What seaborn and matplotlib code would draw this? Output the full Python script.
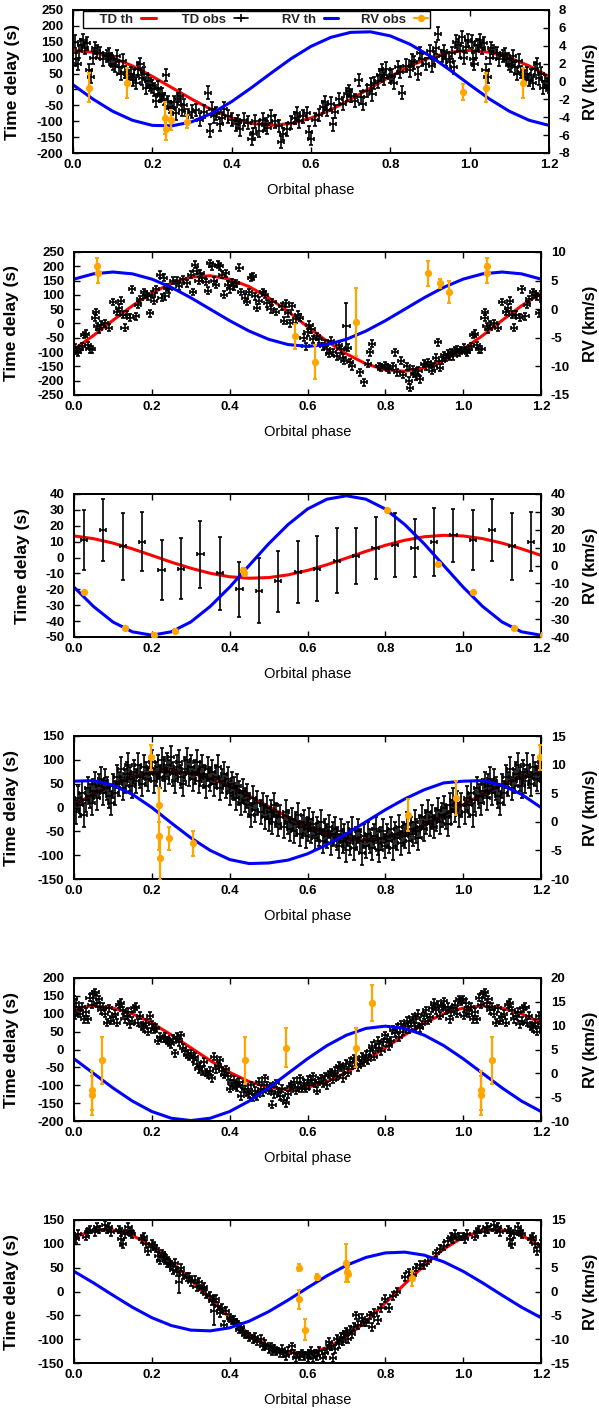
import numpy as np
import pandas as pd
import matplotlib
matplotlib.use("Agg")
import matplotlib.pyplot as plt
from matplotlib.lines import Line2D
import seaborn as sns

sns.set_theme(style="ticks")
plt.rcParams['font.family'] = ['Liberation Sans', 'DejaVu Sans']

# ---------------- data ----------------
# phase grid of the model curves (one orbit, repeated to 1.2)
GRID = [0.0, 0.05, 0.10, 0.15, 0.20, 0.25, 0.30, 0.35, 0.40, 0.45,
        0.50, 0.55, 0.60, 0.65, 0.70, 0.75, 0.80, 0.85, 0.90, 0.95]

# ---- panel 1 ----
p1_td_th = [123, 117, 100, 74, 41, 5, -31, -64, -90, -107,
            -113, -107, -90, -64, -31, 5, 41, 74, 100, 117]
p1_rv_th = [-0.36, -1.96, -3.33, -4.34, -4.91, -4.96, -4.50, -3.56, -2.25, -0.69,
            0.96, 2.56, 3.93, 4.94, 5.50, 5.56, 5.10, 4.16, 2.85, 1.29]
p1_td_obs = [(0.005,150),(0.008,95),(0.012,80),(0.015,120),(0.02,140),(0.025,155),(0.03,130),
             (0.035,145),(0.04,60),(0.045,40),(0.05,100),(0.055,130),(0.06,120),(0.068,115),
             (0.075,95),(0.085,105),(0.09,110),(0.095,95),(0.1,80),(0.105,75),(0.11,105),
             (0.115,70),(0.12,50),(0.125,90),(0.13,55),(0.14,40),(0.145,50),(0.15,30),(0.155,45),
             (0.16,20),(0.165,65),(0.17,80),(0.175,35),(0.18,50),(0.185,5),(0.19,25),(0.195,15),
             (0.2,10),(0.205,0),(0.21,-35),(0.215,5),(0.22,-20),(0.225,-15),(0.23,-30),(0.235,45),
             (0.24,-40),(0.245,-55),(0.25,-60),(0.255,-40),(0.26,-75),(0.265,-30),(0.27,-20),
             (0.275,-65),(0.28,-50),(0.29,-80),(0.3,-70),(0.31,-65),(0.32,-95),(0.33,-70),
             (0.34,-10),(0.345,-130),(0.35,-60),(0.355,-85),(0.36,-75),(0.37,-110),(0.375,-90),
             (0.38,-60),(0.39,-85),(0.4,-95),(0.41,-110),(0.415,-100),(0.42,-125),(0.43,-95),
             (0.44,-105),(0.45,-155),(0.455,-140),(0.46,-100),(0.47,-130),(0.48,-95),(0.485,-110),
             (0.49,-120),(0.5,-85),(0.51,-100),(0.52,-115),(0.525,-165),(0.53,-140),(0.54,-125),
             (0.55,-105),(0.56,-90),(0.565,-75),(0.57,-100),(0.58,-85),(0.59,-75),(0.595,-135),
             (0.6,-155),(0.61,-95),(0.62,-80),(0.63,-55),(0.635,-40),(0.64,-65),(0.65,-45),
             (0.655,-110),(0.66,-70),(0.67,-30),(0.68,-45),(0.69,-15),(0.695,-5),(0.7,-20),
             (0.71,-35),(0.72,30),(0.725,-25),(0.73,-45),(0.74,-5),(0.75,15),(0.755,-15),(0.76,20),
             (0.77,25),(0.775,45),(0.78,60),(0.785,35),(0.79,65),(0.8,40),(0.805,45),(0.81,20),
             (0.82,70),(0.825,55),(0.83,-10),(0.84,75),(0.85,60),(0.855,90),(0.86,85),(0.87,50),
             (0.875,115),(0.88,95),(0.89,80),(0.9,120),(0.905,75),(0.91,100),(0.915,130),
             (0.92,175),(0.93,105),(0.935,120),(0.94,95),(0.95,85),(0.955,115),(0.96,70),
             (0.965,150),(0.97,140),(0.975,120),(0.98,165),(0.985,100),(0.99,135),(0.995,155)]
p1_td_err = 20
p1_rv_obs = [(0.04,-0.7,1.6),(0.135,-0.2,1.7),(0.232,-4.1,1.8),(0.234,-5.3,1.2),
             (0.248,-4.3,1.1),(0.287,-4.5,0.7),(0.983,-1.2,0.9)]

# ---- panel 2 ----
p2_td_th = [-90, -42, 11, 62, 106, 141, 162, 167, 155, 129,
            90, 42, -11, -62, -106, -141, -162, -167, -155, -129]
p2_rv_th = [5.26, 6.18, 6.5, 6.18, 5.26, 3.82, 2.01, 0.0, -2.01, -3.82,
            -5.26, -6.18, -6.5, -6.18, -5.26, -3.82, -2.01, 0.0, 2.01, 3.82]
p2_td_obs = [(0.003,-85),(0.007,-95),(0.01,-100),(0.015,-90),(0.02,-80),(0.025,-40),(0.03,-35),
             (0.035,-75),(0.04,-90),(0.047,-90),(0.055,20),(0.057,40),(0.06,-10),(0.065,-20),
             (0.07,-5),(0.08,0),(0.09,-15),(0.1,75),(0.11,40),(0.115,55),(0.12,80),(0.125,30),
             (0.13,-15),(0.135,30),(0.145,20),(0.15,120),(0.16,25),(0.165,65),(0.17,85),(0.18,110),
             (0.185,100),(0.19,95),(0.195,35),(0.2,100),(0.205,80),(0.21,120),(0.22,170),(0.225,90),
             (0.23,160),(0.235,95),(0.24,125),(0.245,120),(0.255,150),(0.265,150),(0.27,130),
             (0.28,155),(0.29,140),(0.3,170),(0.305,110),(0.31,205),(0.315,185),(0.32,150),
             (0.325,175),(0.33,160),(0.34,145),(0.345,115),(0.35,210),(0.355,200),(0.36,150),
             (0.365,135),(0.37,205),(0.375,200),(0.38,170),(0.385,100),(0.39,175),(0.395,135),
             (0.4,120),(0.405,145),(0.41,130),(0.415,140),(0.425,195),(0.43,110),(0.44,90),
             (0.445,75),(0.45,110),(0.455,160),(0.46,165),(0.465,95),(0.47,55),(0.475,80),
             (0.485,110),(0.49,100),(0.495,70),(0.505,50),(0.51,75),(0.52,40),(0.535,60),(0.54,10),
             (0.545,70),(0.55,35),(0.555,0),(0.56,60),(0.57,15),(0.575,30),(0.58,20),(0.59,-50),
             (0.595,-80),(0.6,-30),(0.605,-5),(0.61,-20),(0.615,-55),(0.625,-45),(0.63,-55),
             (0.64,-80),(0.645,-70),(0.65,-90),(0.655,-105),(0.66,-60),(0.665,-100),(0.675,-115),
             (0.68,-75),(0.685,-90),(0.69,-120),(0.695,-130),(0.705,-85),(0.71,-135),(0.715,-150),
             (0.735,-170),(0.745,-205),(0.755,-140),(0.76,-100),(0.765,-70),(0.785,-150),
             (0.79,-155),(0.8,-145),(0.805,-155),(0.81,-160),(0.82,-150),(0.825,-100),(0.83,-170),
             (0.84,-130),(0.845,-180),(0.855,-150),(0.86,-200),(0.863,-225),(0.87,-160),
             (0.875,-175),(0.88,-185),(0.885,-165),(0.89,-195),(0.9,-140),(0.905,-150),(0.91,-135),
             (0.915,-145),(0.92,-165),(0.925,-150),(0.93,-120),(0.935,-65),(0.94,-155),(0.945,-130),
             (0.95,-110),(0.955,-120),(0.96,-105),(0.965,-115),(0.97,-100),(0.975,-115),(0.98,-95),
             (0.985,-90),(0.99,-100),(0.995,-95)]
p2_td_err = 12
p2_td_big = [(0.70,-10,82)]
p2_rv_obs = [(0.06,7.5,1.5),(0.061,6.25,1.6),(0.568,-4.75,2.2),(0.62,-9.25,3.0),
             (0.725,-2.25,6.0),(0.91,6.25,2.2),(0.94,4.5,0.8),(0.963,3.0,2.0)]

# ---- panel 3 ----
p3_td_th = [13.6, 11.9, 9.1, 5.5, 1.35, -2.9, -6.7, -9.9, -12.1, -13.0,
            -12.6, -10.9, -8.1, -4.5, -0.35, 3.9, 7.7, 10.9, 13.1, 14.0]
p3_rv_th = [-12.1, -22.9, -31.6, -37.1, -39.0, -37.1, -31.6, -22.9, -12.1, 0.0,
            12.1, 22.9, 31.6, 37.1, 39.0, 37.1, 31.6, 22.9, 12.1, 0.0]
p3_td_obs = [(0.025,11,19),(0.075,17.5,19.5),(0.125,7,21),(0.175,10,18.5),(0.225,-8,19),
             (0.275,-7,19),(0.325,2,21),(0.375,-10,23),(0.425,-20,17.5),(0.475,-21,20.5),
             (0.525,-15,19),(0.575,-9,19.5),(0.625,-7,20.5),(0.675,-2,20.5),(0.725,1,17.5),
             (0.775,6,19.5),(0.825,8,20),(0.875,6,18.5),(0.925,10,21.5),(0.975,14,16.5)]
p3_rv_obs = [(0.025,-15.1,0.8),(0.13,-34.7,0.8),(0.205,-38.8,0.8),(0.26,-36.4,0.8),
             (0.435,-2.7,1.2),(0.436,-4.4,1.0),(0.805,31.1,0.8),(0.935,0.9,0.8)]

# ---- panel 4 ----
p4_td_th = [6, 28, 48, 64, 73, 76, 72, 61, 45, 24,
            2, -20, -40, -56, -65, -68, -64, -53, -37, -16]
p4_rv_th = [7.1, 7.2, 6.4, 4.8, 2.5, -0.2, -2.8, -5.0, -6.6, -7.3,
            -7.2, -6.7, -5.6, -4.0, -2.1, 0.0, 2.1, 4.0, 5.6, 6.8]
p4_td_obs = [(0.005,-10),(0.01,20),(0.015,5),(0.02,30),(0.025,-15),(0.03,15),(0.035,40),(0.04,25),
             (0.045,10),(0.05,35),(0.055,50),(0.06,20),(0.065,45),(0.07,60),(0.075,30),(0.08,55),
             (0.085,40),(0.09,25),(0.095,10),(0.1,45),(0.105,30),(0.11,65),(0.115,50),(0.12,80),
             (0.125,40),(0.13,55),(0.135,70),(0.14,90),(0.145,60),(0.15,45),(0.155,75),(0.16,55),
             (0.165,90),(0.17,65),(0.175,50),(0.18,85),(0.185,70),(0.19,60),(0.195,80),(0.2,95),
             (0.205,55),(0.21,70),(0.215,85),(0.22,65),(0.225,100),(0.23,80),(0.235,60),(0.24,90),
             (0.245,75),(0.25,105),(0.255,70),(0.26,55),(0.265,85),(0.27,95),(0.275,65),(0.28,50),
             (0.285,80),(0.29,100),(0.295,70),(0.3,85),(0.305,60),(0.31,75),(0.315,95),(0.32,55),
             (0.325,70),(0.33,85),(0.335,65),(0.34,45),(0.345,80),(0.35,60),(0.355,75),(0.36,50),
             (0.365,65),(0.37,85),(0.375,40),(0.38,55),(0.385,70),(0.39,45),(0.395,60),(0.4,30),
             (0.405,50),(0.41,40),(0.415,20),(0.42,45),(0.425,30),(0.43,10),(0.435,35),(0.44,15),
             (0.445,25),(0.45,5),(0.455,-15),(0.46,20),(0.465,-5),(0.47,10),(0.48,-10),(0.485,5),
             (0.49,-20),(0.495,0),(0.5,-25),(0.505,-10),(0.51,-30),(0.515,5),(0.52,-15),(0.525,-35),
             (0.53,-20),(0.54,-40),(0.545,-10),(0.55,-30),(0.555,-45),(0.56,-25),(0.565,-50),
             (0.57,-35),(0.575,-15),(0.58,-55),(0.585,-40),(0.59,-30),(0.595,-60),(0.6,-45),
             (0.605,-25),(0.61,-50),(0.615,-35),(0.62,-65),(0.625,-45),(0.63,-55),(0.635,-30),
             (0.64,-70),(0.645,-50),(0.65,-60),(0.655,-40),(0.66,-75),(0.665,-55),(0.67,-45),
             (0.675,-65),(0.68,-80),(0.685,-50),(0.69,-70),(0.695,-60),(0.7,-90),(0.705,-55),
             (0.71,-75),(0.715,-45),(0.72,-85),(0.725,-65),(0.73,-50),(0.735,-70),(0.74,-95),
             (0.745,-60),(0.75,-80),(0.755,-55),(0.76,-70),(0.765,-85),(0.77,-60),(0.775,-45),
             (0.78,-75),(0.785,-90),(0.79,-65),(0.795,-50),(0.8,-80),(0.805,-60),(0.81,-70),
             (0.815,-45),(0.82,-85),(0.825,-55),(0.83,-65),(0.835,-40),(0.84,-75),(0.845,-55),
             (0.85,-60),(0.855,-35),(0.86,-70),(0.865,-45),(0.87,-55),(0.875,-30),(0.88,-50),
             (0.885,-65),(0.89,-40),(0.895,-20),(0.9,-45),(0.905,-30),(0.91,-10),(0.915,-35),
             (0.92,-20),(0.925,-40),(0.93,-25),(0.935,-5),(0.94,-30),(0.945,-15),(0.95,0),
             (0.955,-20),(0.96,-35),(0.965,5),(0.97,-10),(0.975,15),(0.98,-5),(0.985,10),
             (0.99,-15),(0.995,5)]
p4_td_err = 25
p4_rv_obs = [(0.198,11.25,2.2),(0.218,2.9,3.0),(0.219,-2.5,2.5),(0.22,-6.25,4.0),
             (0.245,-2.9,2.0),(0.305,-3.75,2.2),(0.858,1.25,2.8),(0.982,4.2,3.0)]

# ---- panel 5 ----
p5_td_th = [116, 122, 116, 100, 74, 41, 5, -31, -64, -90,
            -106, -112, -106, -90, -64, -31, 5, 41, 74, 100]
p5_rv_th = [3.06, 0.0, -3.06, -5.82, -8.01, -9.42, -9.9, -9.42, -8.01, -5.82,
            -3.06, 0.0, 3.06, 5.82, 8.01, 9.42, 9.9, 9.42, 8.01, 5.82]
p5_td_obs = [(0.0,140),(0.003,95),(0.006,130),(0.01,110),(0.015,100),(0.02,120),(0.025,85),
             (0.03,105),(0.035,85),(0.04,145),(0.045,125),(0.05,155),(0.055,160),(0.06,130),
             (0.065,140),(0.07,110),(0.075,120),(0.08,100),(0.085,75),(0.09,115),(0.095,80),
             (0.1,90),(0.105,100),(0.11,75),(0.115,125),(0.12,130),(0.125,110),(0.13,85),
             (0.135,95),(0.14,105),(0.145,70),(0.15,80),(0.155,115),(0.16,120),(0.165,75),
             (0.17,95),(0.175,65),(0.18,60),(0.185,75),(0.19,50),(0.195,95),(0.2,70),(0.205,55),
             (0.21,60),(0.215,25),(0.22,35),(0.23,30),(0.235,35),(0.24,25),(0.245,20),(0.25,15),
             (0.255,30),(0.26,-10),(0.265,35),(0.27,20),(0.275,40),(0.28,5),(0.285,-5),(0.29,-15),
             (0.295,-20),(0.3,-10),(0.305,-25),(0.31,-20),(0.315,-40),(0.32,-55),(0.325,-45),
             (0.33,-60),(0.335,-35),(0.34,-65),(0.345,-70),(0.35,-60),(0.355,-80),(0.36,-20),
             (0.365,-55),(0.37,-45),(0.375,-30),(0.38,-60),(0.385,-70),(0.39,-55),(0.395,-75),
             (0.4,-110),(0.405,-95),(0.41,-85),(0.415,-100),(0.42,-105),(0.425,-90),(0.43,-130),
             (0.435,-100),(0.44,-110),(0.445,-120),(0.45,-125),(0.455,-100),(0.46,-135),
             (0.465,-115),(0.47,-130),(0.475,-90),(0.48,-110),(0.485,-120),(0.49,-80),(0.495,-100),
             (0.5,-115),(0.505,-105),(0.51,-155),(0.515,-125),(0.52,-95),(0.525,-120),(0.53,-130),
             (0.535,-110),(0.54,-140),(0.545,-150),(0.55,-125),(0.555,-105),(0.56,-100),
             (0.565,-90),(0.57,-115),(0.575,-105),(0.58,-80),(0.585,-110),(0.59,-95),(0.595,-110),
             (0.6,-85),(0.605,-100),(0.61,-85),(0.615,-75),(0.62,-95),(0.625,-115),(0.63,-90),
             (0.635,-80),(0.64,-95),(0.645,-75),(0.65,-100),(0.655,-70),(0.66,-65),(0.665,-85),
             (0.67,-60),(0.675,-75),(0.68,-45),(0.685,-50),(0.69,-80),(0.695,-55),(0.7,-40),
             (0.705,-65),(0.71,-35),(0.715,-45),(0.72,-25),(0.725,-30),(0.73,-50),(0.735,-40),
             (0.74,-20),(0.745,-35),(0.75,-15),(0.755,-30),(0.76,-5),(0.765,10),(0.77,-20),
             (0.775,5),(0.78,25),(0.785,15),(0.79,-5),(0.795,20),(0.8,40),(0.805,30),(0.81,10),
             (0.815,25),(0.82,55),(0.825,45),(0.83,60),(0.835,35),(0.84,70),(0.845,50),(0.85,65),
             (0.855,80),(0.86,55),(0.865,75),(0.87,90),(0.875,65),(0.88,85),(0.885,100),(0.89,60),
             (0.895,70),(0.9,95),(0.905,110),(0.91,80),(0.915,90),(0.92,115),(0.925,130),
             (0.93,110),(0.935,125),(0.94,95),(0.945,120),(0.95,135),(0.955,110),(0.96,120),
             (0.965,85),(0.97,105),(0.975,115),(0.98,125),(0.985,100),(0.99,140),(0.995,135)]
p5_td_err = 10
p5_rv_obs = [(0.045,-3.6,4.1),(0.046,-4.6,4.1),(0.073,2.75,4.9),(0.44,2.75,4.9),
             (0.545,5.4,4.1),(0.725,5.4,4.1),(0.765,14.75,3.75)]

# ---- panel 6 ----
p6_td_th = [114, 128, 129, 118, 95, 63, 24, -16, -55, -89,
            -114, -128, -129, -118, -95, -63, -24, 16, 55, 89]
p6_rv_th = [4.23, 1.81, -0.78, -3.30, -5.49, -7.14, -8.10, -8.26, -7.62, -6.23,
            -4.23, -1.81, 0.78, 3.30, 5.49, 7.14, 8.10, 8.26, 7.62, 6.23]
p6_td_obs = [(0.0,115),(0.005,110),(0.01,120),(0.03,115),(0.035,125),(0.04,130),(0.055,125),
             (0.06,135),(0.065,130),(0.08,140),(0.085,130),(0.09,135),(0.095,125),(0.115,130),
             (0.12,125),(0.125,100),(0.13,120),(0.14,135),(0.145,125),(0.15,120),(0.175,110),
             (0.18,115),(0.185,100),(0.19,85),(0.2,100),(0.205,95),(0.21,90),(0.215,75),(0.22,65),
             (0.225,80),(0.23,75),(0.235,70),(0.24,60),(0.245,60),(0.25,55),(0.255,45),(0.26,60),
             (0.265,40),(0.275,50),(0.28,35),(0.29,30),(0.295,30),(0.3,20),(0.31,25),(0.315,10),
             (0.32,20),(0.33,5),(0.335,10),(0.34,-5),(0.35,-10),(0.355,-20),(0.365,-15),(0.37,-30),
             (0.375,-45),(0.38,-35),(0.385,-70),(0.39,-40),(0.4,-55),(0.405,-60),(0.41,-60),
             (0.415,-65),(0.42,-70),(0.425,-80),(0.43,-75),(0.435,-85),(0.44,-90),(0.445,-90),
             (0.45,-95),(0.46,-100),(0.465,-95),(0.47,-105),(0.48,-100),(0.485,-115),(0.49,-110),
             (0.5,-120),(0.505,-115),(0.51,-125),(0.515,-120),(0.52,-125),(0.53,-130),(0.535,-120),
             (0.54,-130),(0.545,-135),(0.55,-125),(0.56,-115),(0.565,-130),(0.57,-140),(0.58,-135),
             (0.585,-130),(0.59,-135),(0.6,-140),(0.605,-130),(0.61,-125),(0.615,-140),(0.62,-130),
             (0.625,-135),(0.63,-125),(0.64,-140),(0.645,-130),(0.65,-120),(0.655,-105),
             (0.66,-115),(0.665,-140),(0.67,-120),(0.675,-100),(0.68,-110),(0.685,-95),(0.69,-105),
             (0.695,-90),(0.7,-85),(0.705,-100),(0.71,-80),(0.715,-90),(0.72,-75),(0.725,-50),
             (0.73,-70),(0.74,-55),(0.745,-65),(0.75,-65),(0.76,-50),(0.765,-75),(0.77,-45),
             (0.78,-60),(0.79,-35),(0.8,-15),(0.81,-35),(0.82,-10),(0.83,0),(0.85,30),(0.86,40),
             (0.87,35),(0.88,50),(0.89,55),(0.9,55),(0.91,65),(0.93,80),(0.94,90),(0.95,95),
             (0.96,105),(0.97,115),(0.975,110),(0.98,120),(0.99,115)]
p6_td_err = 8
p6_td_big = [(0.27,20,24),(0.36,-40,30),(0.12,110,14)]
p6_rv_obs = [(0.578,5.0,0.8),(0.579,-1.6,2.0),(0.593,-8.0,2.2),(0.625,3.0,0.6),
             (0.700,6.0,4.0),(0.701,4.0,2.0),(0.703,3.6,1.6),(0.868,2.8,1.6)]

TD_LIMS = [(-200, 250, 50), (-250, 250, 50), (-50, 40, 10), (-150, 150, 50), (-200, 200, 50), (-150, 150, 50)]
RV_LIMS = [(-8, 8, 2), (-15, 10, 5), (-40, 40, 10), (-10, 15, 5), (-10, 20, 5), (-15, 15, 5)]
X_TICKS = [0.0, 0.2, 0.4, 0.6, 0.8, 1.0, 1.2]
# legend texts are right-justified in equal-width columns, as in the original
LEGEND_LABELS = ["    TD th", " TD obs", "   RV th", "RV obs"]

# ---------------- helpers ----------------
def extend_curve(vals):
    ph = GRID + [g + 1.0 for g in GRID[:5]]
    return ph, list(vals) + list(vals[:5])

def wrap(rows):
    rows = list(rows) + [(r[0] + 1.0,) + tuple(r[1:]) for r in rows if r[0] <= 0.21]
    return [np.array(c, dtype=float) for c in zip(*rows)]

panels = [
    dict(td_th=p1_td_th, rv_th=p1_rv_th, td_obs=p1_td_obs, td_err=p1_td_err, big=[], rv_obs=p1_rv_obs),
    dict(td_th=p2_td_th, rv_th=p2_rv_th, td_obs=p2_td_obs, td_err=p2_td_err, big=p2_td_big, rv_obs=p2_rv_obs),
    dict(td_th=p3_td_th, rv_th=p3_rv_th, td_obs=p3_td_obs, td_err=None, big=[], rv_obs=p3_rv_obs),
    dict(td_th=p4_td_th, rv_th=p4_rv_th, td_obs=p4_td_obs, td_err=p4_td_err, big=[], rv_obs=p4_rv_obs),
    dict(td_th=p5_td_th, rv_th=p5_rv_th, td_obs=p5_td_obs, td_err=p5_td_err, big=[], rv_obs=p5_rv_obs),
    dict(td_th=p6_td_th, rv_th=p6_rv_th, td_obs=p6_td_obs, td_err=p6_td_err, big=p6_td_big, rv_obs=p6_rv_obs),
]

W, H = 599, 1409
fig = plt.figure(figsize=(W / 100, H / 100), dpi=100)

TOPS = [10, 252, 494, 736, 978, 1220]
PH = 143
ORANGE = '#FFA500'
TICKFS = 9.5

for i, cfg in enumerate(panels):
    left, right = (73, 549) if i == 0 else (74, 541)
    ax = fig.add_axes([left / W, 1 - (TOPS[i] + PH) / H, (right - left) / W, PH / H])
    ax.set_facecolor('white')

    # TD theory
    gx, gy = extend_curve(cfg['td_th'])
    sns.lineplot(x=gx, y=gy, ax=ax, color='#FF0000', lw=2.2, sort=False, estimator=None, zorder=2)
    # TD observations
    if cfg['td_err'] is None:
        ph, td, er = wrap(cfg['td_obs'])
    else:
        ph, td = wrap(cfg['td_obs'])
        er = np.full(len(ph), cfg['td_err'], dtype=float)
    ax.errorbar(ph, td, yerr=er, xerr=0.008, fmt='none', ecolor='black',
                elinewidth=1.2, capsize=1.6, capthick=1.2, zorder=3)
    if cfg['big']:
        bph, btd, ber = wrap(cfg['big'])
        ax.errorbar(bph, btd, yerr=ber, xerr=0.008, fmt='none', ecolor='black',
                    elinewidth=1.2, capsize=1.6, capthick=1.2, zorder=3)

    lo, hi, st = TD_LIMS[i]
    ax.set_xlim(0, 1.2)
    ax.set_ylim(lo, hi)
    ax.set_xticks(X_TICKS)
    ax.set_xticklabels([f"{t:.1f}" for t in X_TICKS])
    yt = list(range(lo, hi + 1, st))
    ax.set_yticks(yt)
    ax.set_yticklabels([str(v) for v in yt])
    ax.tick_params(axis='x', direction='in', top=True, bottom=True, length=4, width=1,
                   labelsize=TICKFS, pad=4, colors='black')
    ax.tick_params(axis='y', direction='in', left=True, right=False, length=4, width=1,
                   labelsize=TICKFS, pad=7, colors='black')
    for lab in ax.get_xticklabels() + ax.get_yticklabels():
        lab.set_fontweight('bold')
    ax.set_xlabel("Orbital phase", fontsize=10.5, color='black')
    ax.xaxis.set_label_coords(0.5, -37 / PH)
    ax.xaxis.label.set_va('center')
    ax.set_ylabel("Time delay (s)", fontsize=12.5, fontweight='bold', color='black')
    ylab_x = 23 if i == 2 else 12
    ax.yaxis.set_label_coords((ylab_x - left) / (right - left), 0.5)
    ax.yaxis.label.set_va('center')

    # RV axis
    ax2 = ax.twinx()
    rx, ry = extend_curve(cfg['rv_th'])
    sns.lineplot(x=rx, y=ry, ax=ax2, color='#0000FF', lw=2.2, sort=False, estimator=None, zorder=2)
    oph, orv, oer = wrap(cfg['rv_obs'])
    ax2.errorbar(oph, orv, yerr=oer, fmt='o', color=ORANGE, ms=4.2, mec=ORANGE,
                 elinewidth=1.6, capsize=1.6, capthick=1.4, zorder=4)
    rlo, rhi, rst = RV_LIMS[i]
    ax2.set_ylim(rlo, rhi)
    ax2.set_xlim(0, 1.2)
    rt = list(range(rlo, rhi + 1, rst))
    ax2.set_yticks(rt)
    ax2.set_yticklabels([str(v) for v in rt])
    ax2.tick_params(axis='y', direction='in', right=True, length=4, width=1,
                    labelsize=TICKFS, pad=7, colors='black')
    for lab in ax2.get_yticklabels():
        lab.set_fontweight('bold')
    ax2.set_ylabel("RV (km/s)", fontsize=12, fontweight='bold', color='black')
    ax2.yaxis.set_label_coords((590 - left) / (right - left), 0.5)
    ax2.yaxis.label.set_va('center')

    for a in (ax, ax2):
        for sp in a.spines.values():
            sp.set_visible(True)
            sp.set_color('black')
            sp.set_linewidth(1.4)

    if i == 0:
        handles = [Line2D([], [], color='#FF0000', lw=2.2),
                   Line2D([], [], color='black', lw=1.2, marker='+', ms=6, mew=1.2),
                   Line2D([], [], color='#0000FF', lw=2.2),
                   Line2D([], [], color=ORANGE, lw=1.6, marker='o', ms=4.2)]
        leg = ax2.legend(handles, LEGEND_LABELS, loc='upper left',
                         bbox_to_anchor=(10 / (right - left), 1 - 1.5 / PH), ncol=4,
                         markerfirst=False, frameon=True, fancybox=False, framealpha=1,
                         edgecolor='black', borderpad=0.15, borderaxespad=0,
                         handlelength=1.1, handletextpad=0.6, columnspacing=1.7,
                         prop={'weight': 'bold', 'size': 9.5})
        leg.get_frame().set_linewidth(1.0)
        leg.set_zorder(10)

fig.savefig("out.png", dpi=100, facecolor='white')
